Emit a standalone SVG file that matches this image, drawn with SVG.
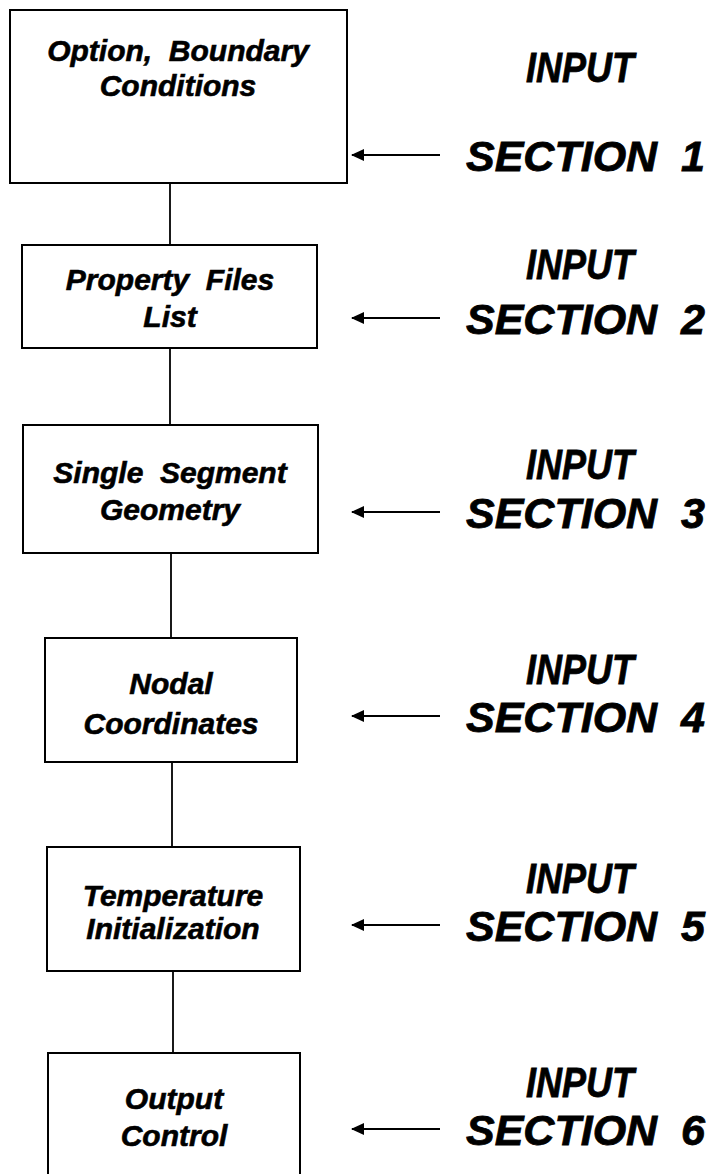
<svg xmlns="http://www.w3.org/2000/svg" width="718" height="1174" viewBox="0 0 718 1174">
<defs>
<style>
.box{fill:#fff;stroke:#000;stroke-width:2}
.t{font-family:"Liberation Sans",Arial,sans-serif;font-weight:bold;font-style:italic;font-size:30px;text-anchor:middle;fill:#000;stroke:#000;stroke-width:0.6;white-space:pre}
.lab{font-family:"Liberation Sans",Arial,sans-serif;font-weight:bold;font-style:italic;font-size:43px;fill:#000;stroke:#000;stroke-width:0.8;white-space:pre}
.in{text-anchor:middle}
.c{stroke:#000;stroke-width:1.8;fill:none}
</style>
<marker id="ah" markerWidth="13" markerHeight="12" refX="12" refY="6" orient="auto" markerUnits="userSpaceOnUse">
<path d="M0,0 L13,6 L0,12 Z" fill="#000"/>
</marker>
</defs>
<rect width="718" height="1174" fill="#fff"/>
<g id="connectors">
<line class="c" x1="170" y1="183" x2="170" y2="245"/>
<line class="c" x1="170" y1="348" x2="170" y2="425"/>
<line class="c" x1="171" y1="553" x2="171" y2="638"/>
<line class="c" x1="172" y1="762" x2="172" y2="847"/>
<line class="c" x1="173" y1="971" x2="173" y2="1053"/>
<line class="c" x1="440" y1="155" x2="352" y2="155" marker-end="url(#ah)"/>
<line class="c" x1="440" y1="318" x2="352" y2="318" marker-end="url(#ah)"/>
<line class="c" x1="440" y1="512" x2="352" y2="512" marker-end="url(#ah)"/>
<line class="c" x1="440" y1="716" x2="352" y2="716" marker-end="url(#ah)"/>
<line class="c" x1="440" y1="925" x2="352" y2="925" marker-end="url(#ah)"/>
<line class="c" x1="440" y1="1129" x2="352" y2="1129" marker-end="url(#ah)"/>
</g>
<g id="node1">
<rect class="box" x="10" y="10" width="337" height="173"/>
<text class="t" x="178" y="61">Option,  Boundary</text>
<text class="t" x="178" y="96">Conditions</text>
</g>
<g id="node2">
<rect class="box" x="22" y="245" width="295" height="103"/>
<text class="t" x="170" y="290">Property  Files</text>
<text class="t" x="170" y="327">List</text>
</g>
<g id="node3">
<rect class="box" x="23" y="425" width="295" height="128"/>
<text class="t" x="170" y="483">Single  Segment</text>
<text class="t" x="170" y="520">Geometry</text>
</g>
<g id="node4">
<rect class="box" x="45" y="638" width="252" height="124"/>
<text class="t" x="171" y="694">Nodal</text>
<text class="t" x="171" y="734">Coordinates</text>
</g>
<g id="node5">
<rect class="box" x="47" y="847" width="253" height="124"/>
<text class="t" x="173" y="906">Temperature</text>
<text class="t" x="173" y="939">Initialization</text>
</g>
<g id="node6">
<rect class="box" x="48" y="1053" width="252" height="130"/>
<text class="t" x="174" y="1109">Output</text>
<text class="t" x="174" y="1146">Control</text>
</g>
<g id="label1"><text class="lab in" x="580" y="82" textLength="108" lengthAdjust="spacingAndGlyphs">INPUT</text><text class="lab" x="466" y="171">SECTION  1</text></g>
<g id="label2"><text class="lab in" x="580" y="279" textLength="108" lengthAdjust="spacingAndGlyphs">INPUT</text><text class="lab" x="466" y="334">SECTION  2</text></g>
<g id="label3"><text class="lab in" x="580" y="479" textLength="108" lengthAdjust="spacingAndGlyphs">INPUT</text><text class="lab" x="466" y="528">SECTION  3</text></g>
<g id="label4"><text class="lab in" x="580" y="684" textLength="108" lengthAdjust="spacingAndGlyphs">INPUT</text><text class="lab" x="466" y="732">SECTION  4</text></g>
<g id="label5"><text class="lab in" x="580" y="893" textLength="108" lengthAdjust="spacingAndGlyphs">INPUT</text><text class="lab" x="466" y="941">SECTION  5</text></g>
<g id="label6"><text class="lab in" x="580" y="1097" textLength="108" lengthAdjust="spacingAndGlyphs">INPUT</text><text class="lab" x="466" y="1145">SECTION  6</text></g>
</svg>
